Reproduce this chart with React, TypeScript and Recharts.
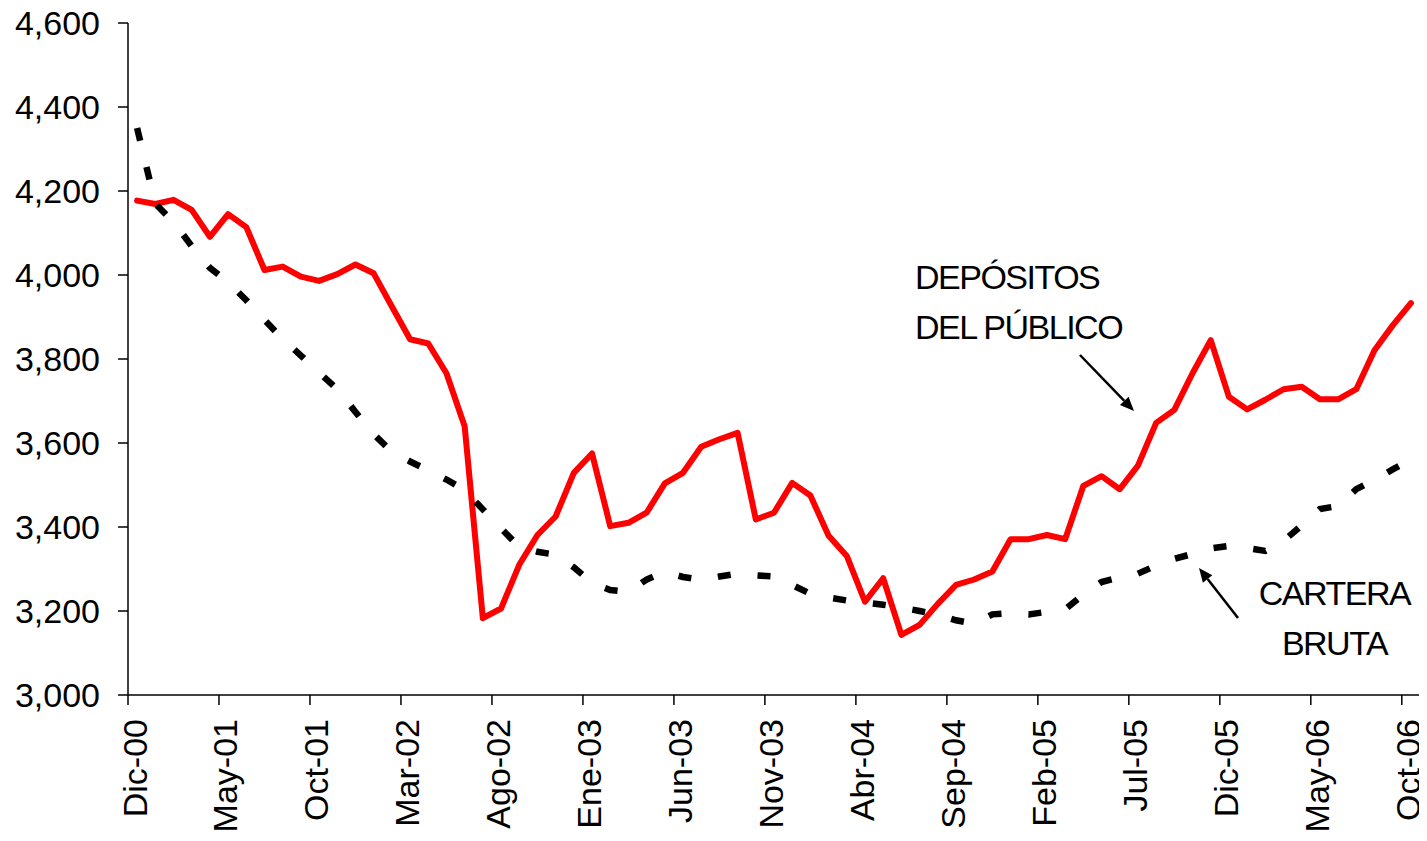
import React from 'react';
import { LineChart, Line, XAxis, YAxis } from 'recharts';

const FONT = '"Liberation Sans", Arial, Helvetica, sans-serif';

const months = [
  'Dic-00',
  'Ene-01', 'Feb-01', 'Mar-01', 'Abr-01', 'May-01', 'Jun-01', 'Jul-01', 'Ago-01', 'Sep-01', 'Oct-01', 'Nov-01', 'Dic-01',
  'Ene-02', 'Feb-02', 'Mar-02', 'Abr-02', 'May-02', 'Jun-02', 'Jul-02', 'Ago-02', 'Sep-02', 'Oct-02', 'Nov-02', 'Dic-02',
  'Ene-03', 'Feb-03', 'Mar-03', 'Abr-03', 'May-03', 'Jun-03', 'Jul-03', 'Ago-03', 'Sep-03', 'Oct-03', 'Nov-03', 'Dic-03',
  'Ene-04', 'Feb-04', 'Mar-04', 'Abr-04', 'May-04', 'Jun-04', 'Jul-04', 'Ago-04', 'Sep-04', 'Oct-04', 'Nov-04', 'Dic-04',
  'Ene-05', 'Feb-05', 'Mar-05', 'Abr-05', 'May-05', 'Jun-05', 'Jul-05', 'Ago-05', 'Sep-05', 'Oct-05', 'Nov-05', 'Dic-05',
  'Ene-06', 'Feb-06', 'Mar-06', 'Abr-06', 'May-06', 'Jun-06', 'Jul-06', 'Ago-06', 'Sep-06', 'Oct-06',
];

// DEPÓSITOS DEL PÚBLICO
const depositos = [
  4177, 4169, 4179, 4155, 4091, 4145, 4114, 4012, 4020, 3996,
  3986, 4002, 4025, 4004, 3925, 3847, 3837, 3766, 3640, 3183,
  3206, 3310, 3381, 3425, 3529, 3575, 3402, 3410, 3434, 3504,
  3529, 3591, 3609, 3624, 3418, 3434, 3505, 3475, 3379, 3331,
  3222, 3278, 3143, 3167, 3217, 3262, 3275, 3294, 3371, 3371,
  3381, 3371, 3498, 3521, 3490, 3546, 3648, 3679, 3766, 3845,
  3710, 3680, 3703, 3728, 3734, 3704, 3704, 3728, 3821, 3880,
  3933,
];

// CARTERA BRUTA
const cartera = [
  4350, 4170, 4126, 4069, 4017, 3983, 3940, 3893, 3848, 3808,
  3768, 3728, 3674, 3621, 3579, 3556, 3535, 3513, 3488, 3442,
  3397, 3352, 3341, 3334, 3304, 3267, 3250, 3245, 3275, 3293,
  3281, 3274, 3282, 3289, 3285, 3282, 3262, 3241, 3232, 3225,
  3220, 3215, 3208, 3200, 3191, 3178, 3170, 3192, 3195, 3192,
  3198, 3204, 3239, 3269, 3280, 3289, 3308, 3324, 3336, 3349,
  3355, 3350, 3343, 3367, 3404, 3443, 3450, 3490, 3512, 3537,
  3560,
];

const yTicks = [3000, 3200, 3400, 3600, 3800, 4000, 4200, 4400, 4600];
const xTickIndexes = [0, 5, 10, 15, 20, 25, 30, 35, 40, 45, 50, 55, 60, 65, 70];

const data = months.map((m, i) => ({
  x: i + 0.5,
  month: m,
  depositos: depositos[i],
  cartera: cartera[i],
}));

const fmt = (v: number) => v.toLocaleString('en-US');

const XTick = (props: any) => {
  const { x, y, payload } = props;
  const label = months[payload.value] ?? '';
  const tx = x + 18.5;
  return (
    <text
      x={tx}
      y={y}
      transform={`rotate(-90, ${tx}, ${y})`}
      textAnchor="end"
      fontSize={34}
      fontFamily={FONT}
      fill="#000"
    >
      {label}
    </text>
  );
};

const Arrow = ({ x1, y1, x2, y2 }: { x1: number; y1: number; x2: number; y2: number }) => {
  const dx = x2 - x1;
  const dy = y2 - y1;
  const len = Math.sqrt(dx * dx + dy * dy);
  const ux = dx / len;
  const uy = dy / len;
  const hl = 14;
  const hw = 6;
  const bx = x2 - ux * hl;
  const by = y2 - uy * hl;
  const p1 = `${x2},${y2}`;
  const p2 = `${bx - uy * hw},${by + ux * hw}`;
  const p3 = `${bx + uy * hw},${by - ux * hw}`;
  return (
    <g>
      <line x1={x1} y1={y1} x2={bx} y2={by} stroke="#000" strokeWidth={2.5} />
      <polygon points={`${p1} ${p2} ${p3}`} fill="#000" />
    </g>
  );
};

const annoStyle = {
  fontSize: 34,
  fontFamily: FONT,
  fill: '#000',
  letterSpacing: '-1.5px',
};

export default function App() {
  const W = 1419;
  const H = 825;
  return (
    <div style={{ position: 'relative', width: W, height: H }}>
      <style>{`.recharts-surface { overflow: visible; }`}</style>
      <LineChart
        width={W}
        height={H}
        data={data}
        margin={{ top: 15, right: 7, bottom: 0, left: 0 }}
      >
        <XAxis
          dataKey="x"
          type="number"
          domain={[0, 71]}
          ticks={xTickIndexes}
          interval={0}
          height={138}
          tickSize={10}
          tickMargin={14}
          tick={<XTick />}
          axisLine={{ stroke: '#000', strokeWidth: 1.5 }}
          tickLine={{ stroke: '#000', strokeWidth: 1.5 }}
        />
        <YAxis
          type="number"
          domain={[3000, 4600]}
          ticks={yTicks}
          interval={0}
          width={120}
          tickSize={10}
          tickMargin={18}
          tickFormatter={fmt}
          tick={{ fontSize: 34, fill: '#000', fontFamily: FONT }}
          axisLine={{ stroke: '#000', strokeWidth: 1.5 }}
          tickLine={{ stroke: '#000', strokeWidth: 1.5 }}
        />
        <Line
          type="linear"
          dataKey="depositos"
          stroke="#FF0000"
          strokeWidth={6}
          strokeLinejoin="round"
          strokeLinecap="round"
          dot={false}
          activeDot={false}
          isAnimationActive={false}
        />
        <Line
          type="linear"
          dataKey="cartera"
          stroke="#000"
          strokeWidth={6.5}
          strokeDasharray="13 27"
          dot={false}
          activeDot={false}
          isAnimationActive={false}
        />
      </LineChart>
      <svg
        width={W}
        height={H}
        style={{ position: 'absolute', left: 0, top: 0, pointerEvents: 'none' }}
      >
        <text x={907} y={281} style={annoStyle}>DEPÓSITOS</text>
        <text x={907} y={331} style={annoStyle}>DEL PÚBLICO</text>
        <text x={1326.5} y={597} textAnchor="middle" style={annoStyle}>CARTERA</text>
        <text x={1326.5} y={647} textAnchor="middle" style={annoStyle}>BRUTA</text>
        <Arrow x1={1072} y1={347} x2={1126} y2={403} />
        <Arrow x1={1230} y1={610} x2={1191} y2={560} />
      </svg>
    </div>
  );
}
